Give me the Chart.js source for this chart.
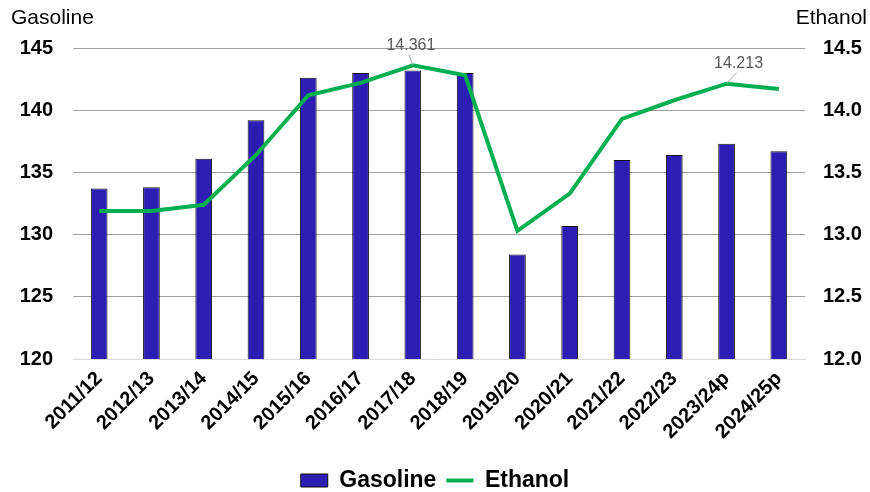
<!DOCTYPE html>
<html>
<head>
<meta charset="utf-8">
<script src="https://cdn.jsdelivr.net/npm/chart.js@4"></script>
<style>
  html, body { margin: 0; padding: 0; background: #fff; }
  #wrap { width: 870px; height: 492px; }
</style>
</head>
<body>
<div id="wrap"><canvas id="chart"></canvas></div>
<script>
const years = ['2011/12', '2012/13', '2013/14', '2014/15', '2015/16', '2016/17', '2017/18',
  '2018/19', '2019/20', '2020/21', '2021/22', '2022/23', '2023/24p', '2024/25p']
const gasoline = [133.7, 133.8, 136.1, 139.2, 142.6, 143.0, 143.2, 143.0, 128.4, 130.7, 136.0, 136.4, 137.3, 136.7]
const ethanol = [13.19, 13.19, 13.24, 13.64, 14.12, 14.22, 14.361, 14.28, 13.03, 13.33, 13.93, 14.08, 14.213, 14.17]
const labelled = [6, 12]

const font = 'Liberation Sans, Arial, sans-serif'

// axis titles on top of each y axis
const axisTitles = {
  id: 'axisTitles',
  afterDraw(chart) {
    const ctx = chart.ctx
    ctx.save()
    ctx.font = '21px ' + font
    ctx.fillStyle = '#000'
    ctx.textBaseline = 'alphabetic'
    ctx.textAlign = 'left'
    ctx.fillText('Gasoline', 11, 24)
    ctx.textAlign = 'right'
    ctx.fillText('Ethanol', 867, 24)
    ctx.restore()
  }
}

// value labels with a small leader line
const valueLabels = {
  id: 'valueLabels',
  afterDatasetsDraw(chart) {
    const ctx = chart.ctx
    const meta = chart.getDatasetMeta(1)
    ctx.save()
    ctx.font = '16px ' + font
    ctx.fillStyle = '#595959'
    ctx.strokeStyle = '#a6a6a6'
    ctx.lineWidth = 1
    ctx.textAlign = 'center'
    ctx.textBaseline = 'middle'
    labelled.forEach(i => {
      const p = meta.data[i]
      const dx = i === 12 ? 12 : -2
      const tx = p.x + dx, ty = p.y - 20
      ctx.beginPath()
      ctx.moveTo(p.x, p.y)
      ctx.lineTo(tx - 2, ty + 9)
      ctx.stroke()
      ctx.fillText(ethanol[i].toFixed(3), tx, ty)
    })
    ctx.restore()
  }
}

new Chart(document.getElementById('chart'), {
  data: {
    labels: years,
    datasets: [{
      type: 'bar',
      label: 'Gasoline',
      data: gasoline,
      yAxisID: 'y',
      backgroundColor: '#2E1DB2',
      borderColor: '#111',
      borderWidth: 1,
      barPercentage: 0.32,
      categoryPercentage: 1,
      order: 1
    }, {
      type: 'line',
      label: 'Ethanol',
      data: ethanol,
      yAxisID: 'y1',
      borderColor: '#00B050',
      backgroundColor: '#00B050',
      borderWidth: 4,
      pointRadius: 0,
      tension: 0,
      order: 0
    }]
  },
  options: {
    responsive: true,
    maintainAspectRatio: false,
    animation: false,
    layout: { padding: { top: 48, left: 0, right: 0, bottom: -10 } },
    plugins: {
      legend: {
        position: 'bottom',
        labels: {
          color: '#000',
          font: { family: font, size: 23, weight: 'bold' },
          usePointStyle: true,
          pointStyleWidth: 27,
          boxHeight: 13,
          padding: 10,
          generateLabels(chart) {
            return chart.data.datasets.map((d, i) => ({
              text: d.label,
              fillStyle: d.type === 'bar' ? '#2E1DB2' : '#00B050',
              strokeStyle: d.type === 'bar' ? '#111' : '#00B050',
              lineWidth: d.type === 'bar' ? 1 : 4,
              pointStyle: d.type === 'bar' ? 'rect' : 'line',
              datasetIndex: i
            }))
          }
        }
      },
      tooltip: { enabled: false }
    },
    scales: {
      x: {
        grid: { display: false },
        border: { color: '#d9d9d9' },
        afterFit: s => { s.height = 100 },
        ticks: {
          color: '#000',
          font: { family: font, size: 20, weight: 'bold' },
          maxRotation: 45,
          minRotation: 45,
          padding: 0
        }
      },
      y: {
        position: 'left',
        min: 120,
        max: 145,
        afterFit: s => { s.width = 73 },
        ticks: {
          stepSize: 5,
          color: '#000',
          font: { family: font, size: 20, weight: 'bold' },
          padding: 20
        },
        grid: { color: '#a0a0a0', drawTicks: false },
        border: { display: false }
      },
      y1: {
        position: 'right',
        min: 12,
        max: 14.5,
        afterFit: s => { s.width = 65 },
        ticks: {
          stepSize: 0.5,
          color: '#000',
          font: { family: font, size: 20, weight: 'bold' },
          padding: 18,
          callback: v => v.toFixed(1)
        },
        grid: { display: false, drawTicks: false },
        border: { display: false }
      }
    }
  },
  plugins: [axisTitles, valueLabels]
})
</script>
</body>
</html>
